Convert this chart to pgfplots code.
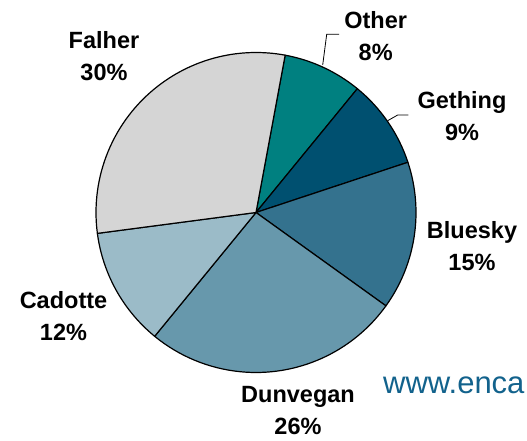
\documentclass[border=0pt]{standalone}
\usepackage{pgfplots}
\pgfplotsset{compat=1.18}
\usepackage{pgfplotstable}
\usepackage{fontspec}
\setmainfont{Liberation Sans}

\definecolor{cOther}{RGB}{0,128,128}
\definecolor{cGething}{RGB}{0,80,112}
\definecolor{cBluesky}{RGB}{52,114,142}
\definecolor{cDunvegan}{RGB}{103,152,172}
\definecolor{cCadotte}{RGB}{155,187,200}
\definecolor{cFalher}{RGB}{213,213,213}
\definecolor{urlblue}{RGB}{18,98,140}

% share in percent, clockwise from the top
\pgfplotstableread{
name     share color
Other    8     cOther
Gething  9     cGething
Bluesky  15    cBluesky
Dunvegan 26    cDunvegan
Cadotte  12    cCadotte
Falher   30    cFalher
}\piedata

\begin{document}
\begin{tikzpicture}
\begin{axis}[
    x=1bp, y=1bp,
    xmin=0, xmax=527, ymin=0, ymax=441,
    scale only axis,
    hide axis,
    clip=false,
]
\coordinate (LL) at (axis cs:0,0);
\coordinate (UR) at (axis cs:527,441);

\def\startang{79.5}
\pgfplotsforeachungrouped \i in {0,...,5}{
    \pgfplotstablegetelem{\i}{share}\of\piedata
    \pgfmathsetmacro\endang{\startang-3.6*\pgfplotsretval}
    \pgfplotstablegetelem{\i}{color}\of\piedata
    \edef\temp{\noexpand\filldraw[fill=\pgfplotsretval, draw=black, line width=1.2bp, line join=round]
        (axis cs:256,228.5) -- ++(\startang:160bp)
        arc[start angle=\startang, end angle=\endang, radius=160bp] -- cycle;}
    \temp
    \global\let\startang\endang
}

% leader lines
\draw[black, line width=0.8bp] (axis cs:322.7,376) -- (axis cs:326.7,406.7) -- (axis cs:339,406.7);
\draw[black, line width=0.8bp] (axis cs:387.7,320.3) -- (axis cs:397.7,326) -- (axis cs:408.3,326);

\begin{scope}[every node/.style={align=center, inner sep=0pt,
    font=\fontsize{23.5bp}{32bp}\selectfont\bfseries}]
\node at (axis cs:104,385) {Falher\\30\%};
\node at (axis cs:375.7,405) {Other\\8\%};
\node at (axis cs:462,325) {Gething\\9\%};
\node at (axis cs:472,195) {Bluesky\\15\%};
\node at (axis cs:63.5,125) {Cadotte\\12\%};
\node at (axis cs:298,30) {Dunvegan\\26\%};
\end{scope}

\node[anchor=base west, inner sep=0pt, text=urlblue,
    font=\fontsize{31bp}{31bp}\selectfont] at (axis cs:383,47) {www.enca};
\end{axis}
\pgfresetboundingbox
\path[use as bounding box] (LL) rectangle (UR);
\end{tikzpicture}
\end{document}
